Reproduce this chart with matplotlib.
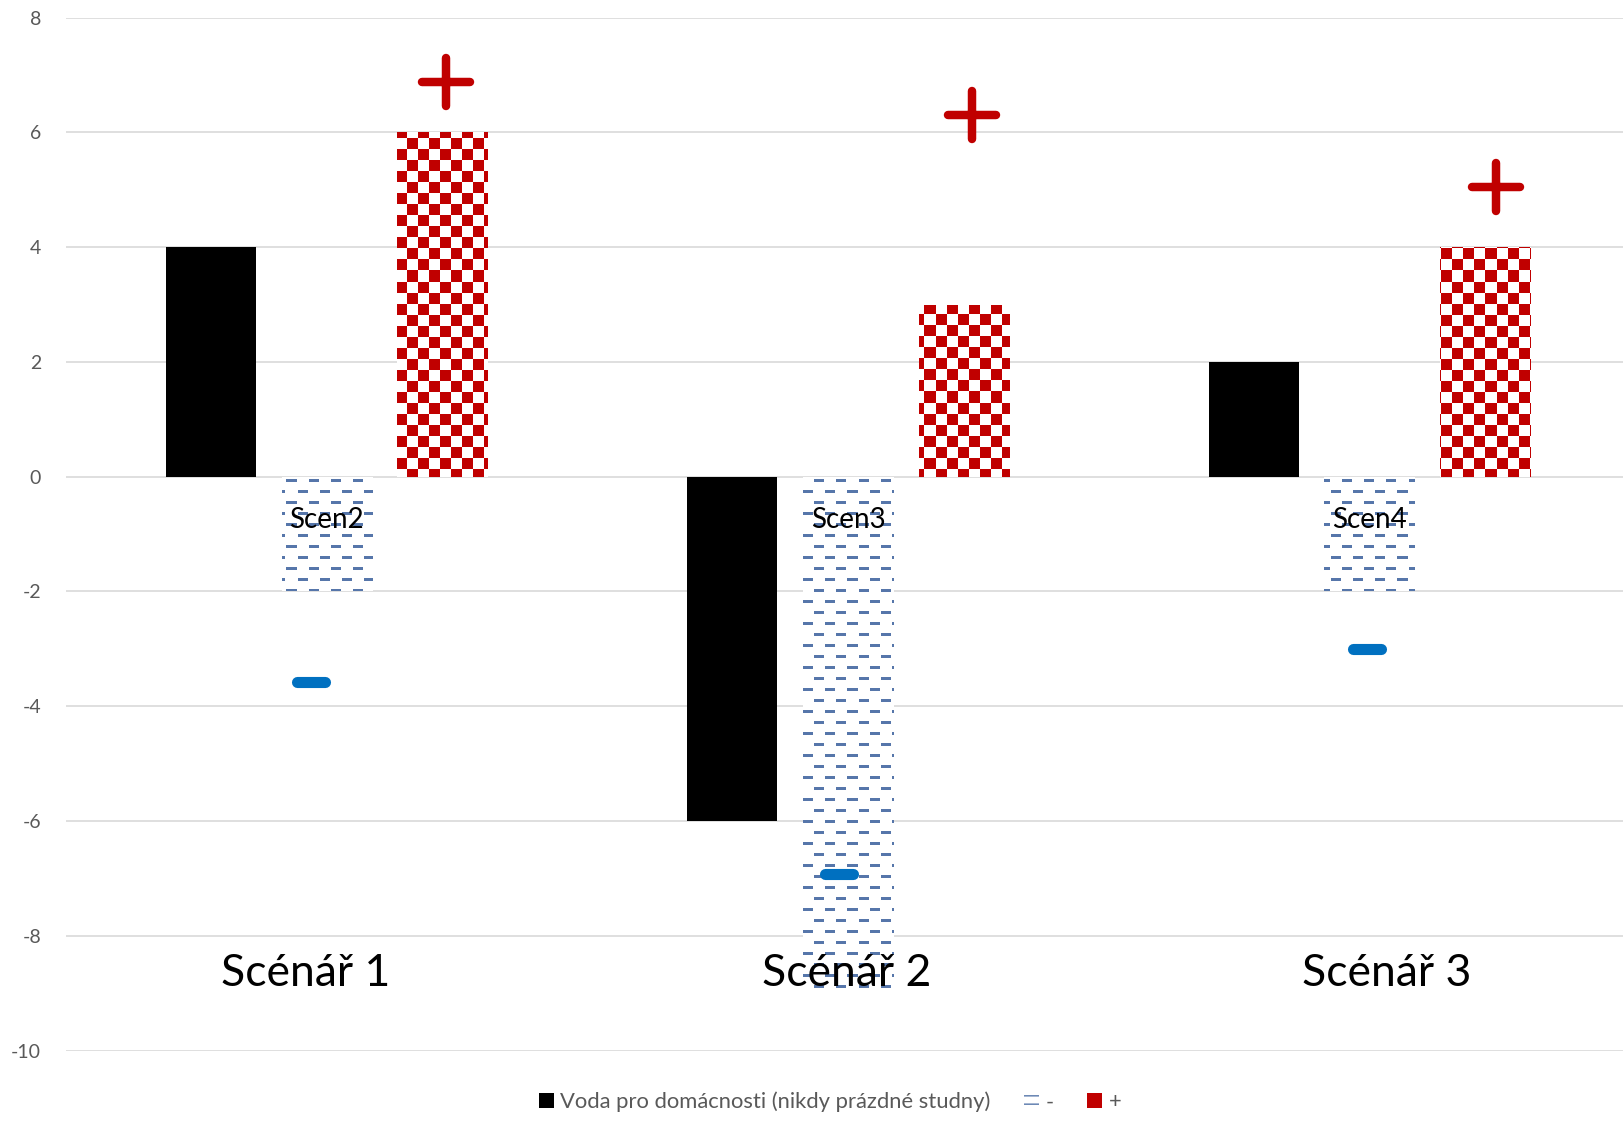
import numpy as np
import matplotlib.pyplot as plt
from matplotlib.patches import Patch
from matplotlib.markers import MarkerStyle

plt.rcParams['font.family'] = ['Lato', 'DejaVu Sans']
plt.rcParams['axes.unicode_minus'] = False

scenarios = ['Scénář 1', 'Scénář 2', 'Scénář 3']
household = [4, -6, 2]
minus_vals = [-2, -9, -2]
plus_vals = [6, 3, 4]
bar_labels = ['Scen2', 'Scen3', 'Scen4']
minus_pts_x = [-0.03, 0.983, 1.995]
minus_pts_y = [-3.58, -6.93, -3.0]
plus_pts_x = [0.229, 1.238, 2.243]
plus_pts_y = [6.87, 6.31, 5.05]
scen_label_x = [-0.04, 0.998, 2.034]
scen_label_y = -8.65

red = '#C00000'
dash_blue = '#5676AA'

fig = plt.figure(figsize=(16.23, 11.22), dpi=100)
ax = fig.add_axes([66 / 1623, 1 - 1050.6 / 1122, 1564 / 1623, 1033 / 1122])

x = np.arange(len(scenarios))
w = 0.173
gap = 0.222

ax.bar(x - gap, household, w, color='black', zorder=2)
bars_minus = ax.bar(x, minus_vals, w, color='none', zorder=2)
bars_plus = ax.bar(x + gap, plus_vals, w, color='none', zorder=2)

# pixel textures for the patterned bars
W, H = 1564, 1033
yy, xx = np.mgrid[0:H, 0:W]
checker = ((xx // 11 + yy // 11) % 2 == 0)
red_img = np.ones((H, W, 3))
red_img[checker] = (192 / 255, 0, 0)

shift = ((yy // 11) % 2) * 11
dashes = ((yy % 11) < 3) & (((xx + shift) % 22) < 10)
blue_img = np.ones((H, W, 3))
blue_img[dashes] = (86 / 255, 118 / 255, 170 / 255)

ext = (-0.5, 2.5, -10, 8)
for bars, img in [(bars_minus, blue_img), (bars_plus, red_img)]:
    for b in bars:
        im = ax.imshow(img, extent=ext, aspect='auto', interpolation='nearest',
                       origin='upper', zorder=2)
        im.set_clip_path(b)

ax.plot(plus_pts_x, plus_pts_y, ls='none', marker=MarkerStyle('+', capstyle='round'),
        ms=34, mew=6.1, color=red, zorder=4)
ax.plot(minus_pts_x, minus_pts_y, ls='none', marker=MarkerStyle('_', capstyle='round'),
        ms=19.5, mew=8, color='#0070C0', zorder=4)

for i, lab in enumerate(bar_labels):
    ax.text(x[i], -0.76, lab, ha='center', va='center', fontsize=20, color='black', zorder=5)

for lx, lab in zip(scen_label_x, scenarios):
    ax.text(lx, scen_label_y, lab, ha='center', va='center', fontsize=32, color='black', zorder=5)

ax.set_xlim(-0.5, 2.5)
ax.set_ylim(-10, 8)
ax.set_yticks(range(-10, 9, 2))
ax.set_xticks([])
ax.tick_params(axis='y', length=0, pad=18, labelsize=14, labelcolor='#595959')
ax.grid(axis='y', color='#D9D9D9', lw=1.2)
ax.set_axisbelow(True)
for s in ax.spines.values():
    s.set_visible(False)

handles = [
    Patch(facecolor='black', edgecolor='none'),
    Patch(facecolor='white', edgecolor=dash_blue, hatch='--', lw=0),
    Patch(facecolor=red, edgecolor='none'),
]
labels = ['Voda pro domácnosti (nikdy prázdné studny)', '-', '+']
fig.legend(handles, labels, loc='center', bbox_to_anchor=(830 / 1623, 1 - 1102 / 1122),
           ncol=3, frameon=False, fontsize=15.8, handlelength=0.7, handleheight=0.7,
           handletextpad=0.3, columnspacing=1.5, labelcolor='#595959')

fig.savefig('out.png', dpi=100)
